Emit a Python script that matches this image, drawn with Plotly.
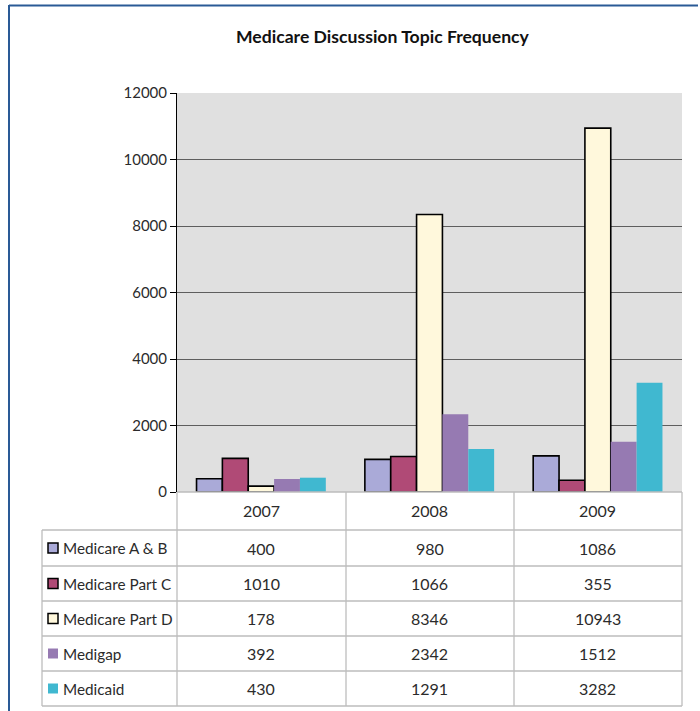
import plotly.graph_objects as go

years = ["2007", "2008", "2009"]
series_names = ["Medicare A & B", "Medicare Part C", "Medicare Part D", "Medigap", "Medicaid"]
ab = [400, 980, 1086]
part_c = [1010, 1066, 355]
part_d = [178, 8346, 10943]
medigap = [392, 2342, 1512]
medicaid = [430, 1291, 3282]
series_values = [ab, part_c, part_d, medigap, medicaid]
colors = ["#AAAAD8", "#B04A76", "#FFF8DC", "#967AB2", "#40B8D0"]
outlined = [True, True, True, False, False]
y_ticks = [0, 2000, 4000, 6000, 8000, 10000, 12000]

W, H = 700, 711
def px(x): return x / W
def py(y): return 1 - y / H

FONT = "Lato"
TXT = "#2B2B2B"
FS = 16

fig = go.Figure()
for name, vals, col, ol in zip(series_names, series_values, colors, outlined):
    fig.add_trace(go.Bar(
        x=years, y=vals, name=name,
        marker=dict(color=col, line=dict(color="#000000", width=1.6 if ol else 0)),
        showlegend=False,
    ))

plot_left, plot_right, plot_top, plot_bottom = 177, 682, 93, 492
fig.update_layout(
    width=W, height=H,
    margin=dict(l=0, r=0, t=0, b=0, pad=0, autoexpand=False),
    paper_bgcolor="white",
    plot_bgcolor="#E0E0E0",
    barmode="group",
    bargap=0.232,
    bargroupgap=0,
    font=dict(family=FONT, color=TXT, size=FS),
    xaxis=dict(type="category", domain=[px(plot_left), px(plot_right)], range=[-0.5, 2.5],
               showticklabels=False, showgrid=False, ticks="", showline=False,
               zeroline=False, fixedrange=True),
    yaxis=dict(domain=[py(plot_bottom), py(plot_top)], range=[0, 12000],
               tickvals=y_ticks, ticktext=[str(t) for t in y_ticks],
               showgrid=True, gridcolor="#5E5E5E", gridwidth=1,
               zeroline=False, showline=True, linecolor="#000000", linewidth=1,
               ticks="outside", ticklen=6, tickcolor="#000000", automargin=False,
               tickfont=dict(family=FONT, size=15, color=TXT), fixedrange=True),
)

shapes = []
annotations = []

annotations.append(dict(text="<b>Medicare Discussion Topic Frequency</b>", x=px(383), y=py(37),
                        xref="paper", yref="paper", showarrow=False,
                        font=dict(family=FONT, size=17.6, color="#111111"),
                        xanchor="center", yanchor="middle"))

shapes.append(dict(type="line", xref="paper", yref="paper", x0=px(9), x1=px(698), y0=py(5.5), y1=py(5.5),
                   line=dict(color="#2A5A96", width=2)))
shapes.append(dict(type="line", xref="paper", yref="paper", x0=px(9), x1=px(9), y0=py(5), y1=0,
                   line=dict(color="#2A5A96", width=2)))

grid_col = "#BDBDBD"
row_lines = [530, 566, 601, 636, 671, 706]
col_lines = [plot_left, 346, 514, plot_right]
table_left = 42
shapes.append(dict(type="line", xref="paper", yref="paper", x0=px(plot_left), x1=px(plot_right),
                   y0=py(plot_bottom), y1=py(plot_bottom), line=dict(color=grid_col, width=1.3)))
for yy in row_lines:
    shapes.append(dict(type="line", xref="paper", yref="paper", x0=px(table_left), x1=px(plot_right),
                       y0=py(yy), y1=py(yy), line=dict(color=grid_col, width=1.3)))
for xx in col_lines:
    shapes.append(dict(type="line", xref="paper", yref="paper", x0=px(xx), x1=px(xx),
                       y0=py(plot_bottom), y1=py(row_lines[-1]), line=dict(color=grid_col, width=1.3)))
shapes.append(dict(type="line", xref="paper", yref="paper", x0=px(table_left), x1=px(table_left),
                   y0=py(row_lines[0]), y1=py(row_lines[-1]), line=dict(color=grid_col, width=1.3)))

for i, yr in enumerate(years):
    annotations.append(dict(text=yr, x=i, xref="x", y=py((plot_bottom + row_lines[0]) / 2), yref="paper",
                            showarrow=False, font=dict(family=FONT, size=FS, color=TXT),
                            xanchor="center", yanchor="middle"))

for r, (name, vals, col, ol) in enumerate(zip(series_names, series_values, colors, outlined)):
    yc = (row_lines[r] + row_lines[r + 1]) / 2
    shapes.append(dict(type="rect", xref="paper", yref="paper",
                       x0=px(48), x1=px(58), y0=py(yc - 5), y1=py(yc + 5),
                       fillcolor=col, line=dict(color="#000000", width=1.5 if ol else 0)))
    annotations.append(dict(text=name, x=px(60.5), y=py(yc), xref="paper", yref="paper",
                            showarrow=False, font=dict(family=FONT, size=15.3, color=TXT),
                            xanchor="left", yanchor="middle"))
    for i, v in enumerate(vals):
        annotations.append(dict(text=str(v), x=i, xref="x", y=py(yc), yref="paper",
                                showarrow=False, font=dict(family=FONT, size=FS, color=TXT),
                                xanchor="center", yanchor="middle"))

fig.update_layout(shapes=shapes, annotations=annotations)
fig.write_html("out.html", config={"displayModeBar": False},
               post_script="document.body.style.margin='0';document.body.style.padding='0';")
